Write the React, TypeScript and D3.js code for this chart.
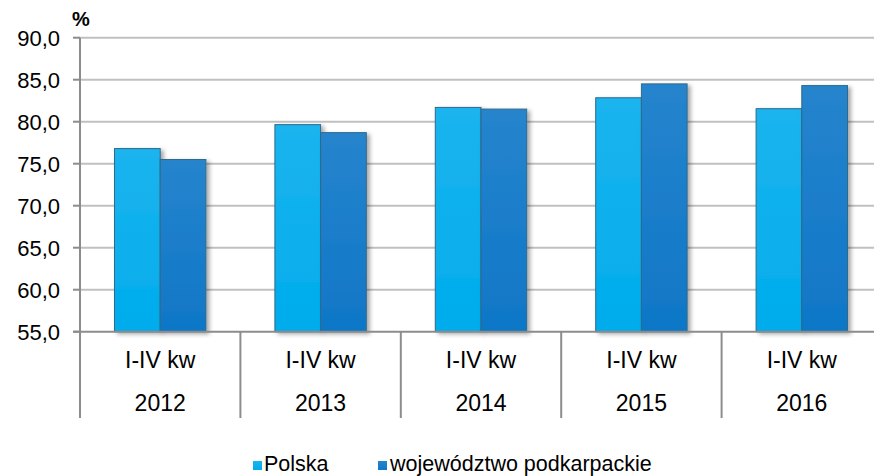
import React from "react";
import * as d3 from "d3";

// chart data
const years = ["2012", "2013", "2014", "2015", "2016"];
const quarterLabel = "I-IV kw";
const seriesNames = ["Polska", "województwo podkarpackie"];
const polska = [76.8, 79.65, 81.7, 82.85, 81.55];
const podkarpackie = [75.5, 78.7, 81.5, 84.5, 84.3];
const yTicks = [55, 60, 65, 70, 75, 80, 85, 90];

const W = 874;
const H = 476;
const FONT = "'Liberation Sans', Arial, sans-serif";

export default function App() {
    const left = 80;
    const right = 882; // plot runs past the picture edge, as in the original
    const top = 37.7;
    const bottom = 331.7;

    const y = d3.scaleLinear().domain([55, 90]).range([bottom, top]);
    const x0 = d3.scaleBand().domain(years).range([left, right]).padding(0);
    const x1 = d3.scaleBand()
        .domain(seriesNames)
        .range([0, x0.bandwidth()])
        .paddingInner(0)
        .paddingOuter(0.755);

    const values = [polska, podkarpackie];
    const fills = ["url(#gPolska)", "url(#gPodk)"];
    const fmt = (v: number) => v.toFixed(1).replace(".", ",");

    return (
        <svg width={W} height={H} style={{ position: "absolute", left: 0, top: 0 }} fontFamily={FONT}>
            <defs>
                <linearGradient id="gPolska" x1="0" y1="0" x2="0" y2="1">
                    <stop offset="0" stopColor="#1bb4ee" />
                    <stop offset="1" stopColor="#00acec" />
                </linearGradient>
                <linearGradient id="gPodk" x1="0" y1="0" x2="0" y2="1">
                    <stop offset="0" stopColor="#2684cd" />
                    <stop offset="1" stopColor="#0f77c7" />
                </linearGradient>
                <filter id="shadow" x="-20%" y="-5%" width="150%" height="115%">
                    <feDropShadow dx="3" dy="2" stdDeviation="2" floodColor="#000" floodOpacity="0.35" />
                </filter>
            </defs>

            {/* gridlines */}
            {yTicks.map((t) => (
                <g key={t}>
                    {t !== 55 && (
                        <line x1={left} x2={right} y1={y(t)} y2={y(t)} stroke="#c0c0c0" strokeWidth={2} />
                    )}
                    <line x1={73} x2={left} y1={y(t)} y2={y(t)} stroke="#8c8c8c" strokeWidth={2} />
                    <text x={60} y={y(t)} dy="0.36em" textAnchor="end" fontSize={22} fill="#000">
                        {fmt(t)}
                    </text>
                </g>
            ))}

            {/* bars */}
            {values.map((vals, si) => (
                <g key={si} filter="url(#shadow)">
                    {years.map((yr, i) => (
                        <rect
                            key={yr}
                            x={(x0(yr) as number) + (x1(seriesNames[si]) as number)}
                            y={y(vals[i])}
                            width={x1.bandwidth()}
                            height={bottom - y(vals[i])}
                            fill={fills[si]}
                            stroke="#2f6a8c"
                            strokeWidth={1}
                        />
                    ))}
                </g>
            ))}

            {/* axes */}
            <line x1={73} x2={right} y1={bottom} y2={bottom} stroke="#8c8c8c" strokeWidth={2} />
            <line x1={left} x2={left} y1={top} y2={418} stroke="#8c8c8c" strokeWidth={2} />
            {years.map((yr) => (
                <line key={yr} x1={(x0(yr) as number) + x0.bandwidth()} x2={(x0(yr) as number) + x0.bandwidth()}
                    y1={bottom} y2={418} stroke="#8c8c8c" strokeWidth={2} />
            ))}

            {/* category labels */}
            {years.map((yr) => {
                const cx = (x0(yr) as number) + x0.bandwidth() / 2;
                return (
                    <g key={yr} fontSize={23} fill="#000" textAnchor="middle">
                        <text x={cx} y={368}>{quarterLabel}</text>
                        <text x={cx} y={411}>{yr}</text>
                    </g>
                );
            })}

            <text x={72} y={26} fontSize={20} fontWeight="bold" fill="#000">%</text>

            {/* legend */}
            <rect x={253} y={461} width={9} height={9} fill="url(#gPolska)" />
            <text x={264} y={471} fontSize={21.5} fill="#000">{seriesNames[0]}</text>
            <rect x={378} y={461} width={9} height={9} fill="url(#gPodk)" />
            <text x={390} y={471} fontSize={21.5} fill="#000">{seriesNames[1]}</text>
        </svg>
    );
}
